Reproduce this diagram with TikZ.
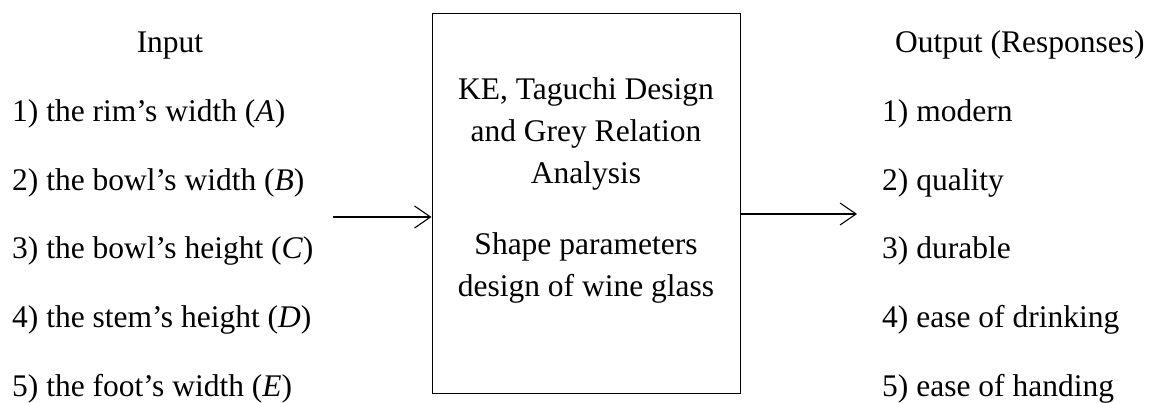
\documentclass[tikz,border=0pt]{standalone}
\usepackage{fontspec}
\setmainfont{Liberation Serif}
\usetikzlibrary{arrows.meta}
\tikzset{
  txt/.style={inner sep=0pt, font=\fontsize{31.5pt}{42pt}\selectfont},
  boxst/.style={draw, line width=1pt, minimum width=308pt, minimum height=379pt, inner sep=0pt},
  arr/.style={line width=1.1pt, -{Straight Barb[length=16pt,width=22pt,line width=1.1pt]}}
}
\begin{document}
\begin{tikzpicture}[x=1pt,y=-1pt]
\useasboundingbox (0,0) rectangle (1162,403);
% central box
\node[boxst] (box) at (586,203.5) {};
\node[txt, anchor=base] (b1) at (586,100) {KE, Taguchi Design};
\node[txt, anchor=base] (b2) at (586,142) {and Grey Relation};
\node[txt, anchor=base] (b3) at (586,184) {Analysis};
\node[txt, anchor=base] (b4) at (586,255) {Shape parameters};
\node[txt, anchor=base] (b5) at (586,297) {design of wine glass};
% inputs
\node[txt, anchor=base] (inh) at (170,53) {Input};
\node[txt, anchor=base west] (i1) at (12,122) {1) the rim’s width (\textit{A})};
\node[txt, anchor=base west] (i2) at (12,190.5) {2) the bowl’s width (\textit{B})};
\node[txt, anchor=base west] (i3) at (12,259) {3) the bowl’s height (\textit{C})};
\node[txt, anchor=base west] (i4) at (12,327.5) {4) the stem’s height (\textit{D})};
\node[txt, anchor=base west] (i5) at (12,396) {5) the foot’s width (\textit{E})};
% outputs
\node[txt, anchor=base west] (outh) at (895,53) {Output (Responses)};
\node[txt, anchor=base west] (o1) at (882,122) {1) modern};
\node[txt, anchor=base west] (o2) at (882,190.5) {2) quality};
\node[txt, anchor=base west] (o3) at (882,259) {3) durable};
\node[txt, anchor=base west] (o4) at (882,327.5) {4) ease of drinking};
\node[txt, anchor=base west] (o5) at (882,396) {5) ease of handing};
% connectors
\coordinate (inL) at (333,217);
\coordinate (outR) at (857,214);
\draw[arr] (inL) -- (inL -| box.west);
\draw[arr] (outR -| box.east) -- (outR);
\end{tikzpicture}
\end{document}
